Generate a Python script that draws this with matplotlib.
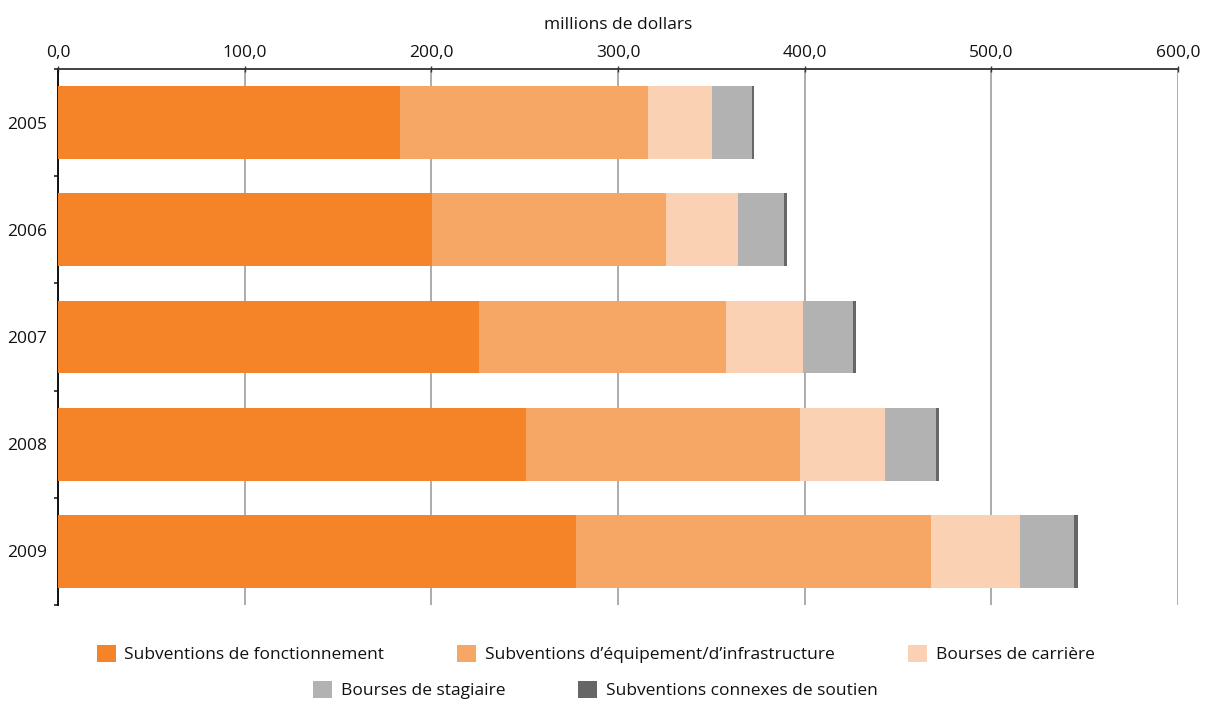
import matplotlib
matplotlib.use("Agg")
import matplotlib.pyplot as plt
from matplotlib.patches import Patch
from matplotlib.ticker import FuncFormatter, FixedLocator
import numpy as np

plt.rcParams['font.family'] = ['Open Sans', 'DejaVu Sans']

years = ['2005', '2006', '2007', '2008', '2009']
series_names = ['Subventions de fonctionnement',
                'Subventions d\u2019\u00e9quipement/d\u2019infrastructure',
                'Bourses de carri\u00e8re',
                'Bourses de stagiaire',
                'Subventions connexes de soutien']
fonctionnement = [183.4, 200.2, 225.7, 250.7, 277.5]
equipement = [132.5, 125.7, 132.3, 147.0, 190.1]
carriere = [34.6, 38.4, 40.9, 45.4, 47.5]
stagiaire = [21.1, 24.5, 27.1, 27.5, 29.0]
connexes = [1.4, 1.6, 1.3, 1.4, 2.5]
colors = ['#F58428', '#F6A766', '#FAD1B3', '#B2B2B2', '#666666']
x_ticks = [0, 100, 200, 300, 400, 500, 600]

series = [fonctionnement, equipement, carriere, stagiaire, connexes]

fig = plt.figure(figsize=(12.18, 7.04), dpi=100)
ax = fig.add_axes([58/1218, 1-605/704, 1120/1218, 536/704])

y = np.arange(len(years))
left = np.zeros(len(years))
for vals, col, name in zip(series, colors, series_names):
    ax.barh(y, vals, left=left, height=0.68, color=col, edgecolor='none', label=name, zorder=3)
    left += np.array(vals)

txt = '#111111'
ax.set_xlim(0, 600)
ax.set_ylim(4.5, -0.5)
ax.xaxis.tick_top()
ax.xaxis.set_label_position('top')
ax.set_xticks(x_ticks)
ax.xaxis.set_major_formatter(FuncFormatter(lambda v, p: f"{v:.1f}".replace('.', ',')))
ax.set_xlabel('millions de dollars', fontsize=12.5, color=txt, labelpad=11)
ax.tick_params(axis='x', which='major', direction='inout', length=4, width=1, color='#333333',
               labelsize=12.5, labelcolor=txt, pad=4)
ax.grid(axis='x', color='#A6A6A6', linewidth=1.3, zorder=0)

ax.set_yticks(y)
ax.set_yticklabels(years)
ax.yaxis.set_minor_locator(FixedLocator(np.arange(-0.5, len(years), 1.0)))
ax.tick_params(axis='y', which='major', length=0, labelsize=12.5, labelcolor=txt, pad=8)
ax.tick_params(axis='y', which='minor', direction='out', length=3, width=1.2, color='#222222')

for s in ['right', 'bottom']:
    ax.spines[s].set_visible(False)
ax.spines['top'].set_color('#333333')
ax.spines['top'].set_linewidth(1.3)
ax.spines['left'].set_color('#111111')
ax.spines['left'].set_linewidth(1.4)

handles = [Patch(facecolor=c, edgecolor='none') for c in colors]
leg_kw = dict(frameon=False, fontsize=12.5, handlelength=1.1, handleheight=1.1,
              handletextpad=0.5, columnspacing=4.2, borderpad=0, borderaxespad=0)
l1 = fig.legend(handles[:3], series_names[:3], ncol=3, loc='center',
                bbox_to_anchor=(595.5/1218, 1-654/704), **leg_kw)
l2 = fig.legend(handles[3:], series_names[3:], ncol=2, loc='center',
                bbox_to_anchor=(595.5/1218, 1-690/704), **leg_kw)
for lg in (l1, l2):
    for t in lg.get_texts():
        t.set_color(txt)

fig.savefig('out.png', dpi=100)
